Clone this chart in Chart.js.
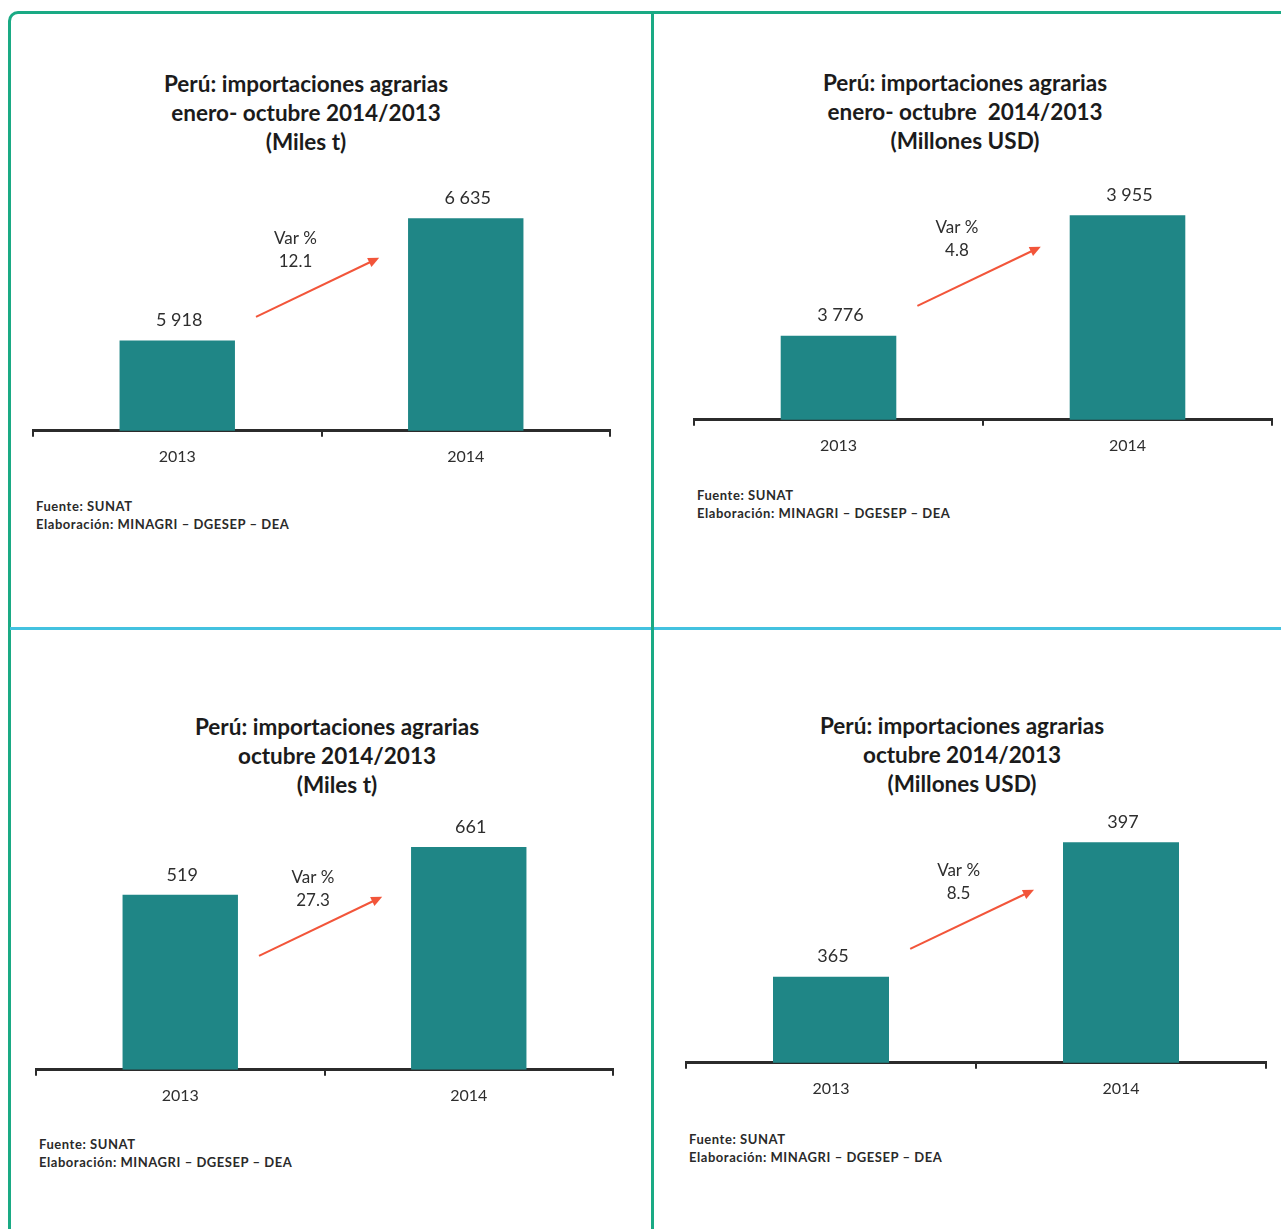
<!DOCTYPE html>
<html>
<head>
<meta charset="utf-8">
<script src="https://cdn.jsdelivr.net/npm/chart.js@4.4.1/dist/chart.umd.min.js"></script>
<style>
  body { margin: 0; background: #fff; font-family: 'Lato', 'Open Sans', sans-serif; }
  #page { position: relative; width: 1281px; height: 1229px; overflow: hidden; background: #fff; }
  .frame { position: absolute; left: 8px; top: 11px; width: 1300px; height: 1260px;
           border-top: 3px solid #1aaa84; border-left: 3px solid #1aaa84; border-top-left-radius: 10px; }
  .vline { position: absolute; left: 651px; top: 11px; width: 3px; height: 1240px; background: #1aaa84; z-index: 2; }
  .hline { position: absolute; left: 10px; top: 627px; width: 1300px; height: 3px; background: #43c2e0; z-index: 1; }
  .title { position: absolute; width: 460px; text-align: center; font-weight: bold; font-size: 22.5px;
           line-height: 29px; color: #1b1b1b; white-space: pre; }
  .note { position: absolute; font-weight: bold; font-size: 13px; letter-spacing: 0.55px; line-height: 18px;
          color: #2a2a2a; white-space: pre; }
  canvas { position: absolute; }
</style>
</head>
<body>
<div id="page">
  <div class="frame"></div>
  <div class="hline"></div>
  <div class="vline"></div>
</div>
<script>
// categories and values
const categories = ['2013', '2014'];
const tonsJanOct = [5918, 6635];   // Miles t, enero-octubre
const usdJanOct = [3776, 3955];    // Millones USD, enero-octubre
const tonsOct = [519, 661];        // Miles t, octubre
const usdOct = [365, 397];         // Millones USD, octubre
const varPct = ['12.1', '4.8', '27.3', '8.5'];

// value axis range of each chart (the bars do not start at zero)
const yMin = [5389, 3651, 0, 344.5];
const yMax = [6876, 4028, 753, 404.9];

const titles = [
    ['Perú: importaciones agrarias', 'enero- octubre 2014/2013', '(Miles t)'],
    ['Perú: importaciones agrarias', 'enero- octubre  2014/2013', '(Millones USD)'],
    ['Perú: importaciones agrarias', 'octubre 2014/2013', '(Miles t)'],
    ['Perú: importaciones agrarias', 'octubre 2014/2013', '(Millones USD)']
];
const noteLines = ['Fuente: SUNAT', 'Elaboración: MINAGRI – DGESEP – DEA'];

const seriesList = [tonsJanOct, usdJanOct, tonsOct, usdOct];

// where each panel sits on the page
const panels = [
    { axisY: 430, left: 33, right: 610, titleX: 306, titleY: 83, noteX: 36, noteY: 506, varX: 0.41 },
    { axisY: 419, left: 694, right: 1272, titleX: 965, titleY: 82, noteX: 697, noteY: 495, varX: 0.41 },
    { axisY: 1069, left: 36, right: 613, titleX: 337, titleY: 726, noteX: 39, noteY: 1144, varX: 0.46 },
    { axisY: 1062, left: 686, right: 1266, titleX: 962, titleY: 725, noteX: 689, noteY: 1139, varX: 0.44 }
];

const barColor = '#1f8686';
const arrowColor = '#f2553a';
const textColor = '#2e2e2e';

function fmt(v) {
    return String(v).replace(/\B(?=(\d{3})+(?!\d))/g, ' ');
}

// value labels, "Var %" note and red arrow
const annotate = {
    id: 'annotate',
    afterDatasetsDraw(chart, args, opts) {
        const ctx = chart.ctx;
        const meta = chart.getDatasetMeta(0);
        const data = chart.data.datasets[0].data;
        const x = chart.scales.x;
        const bottom = chart.chartArea.bottom;
        ctx.save();
        ctx.fillStyle = textColor;
        ctx.textAlign = 'center';
        ctx.textBaseline = 'middle';
        ctx.font = '18px Lato, sans-serif';
        meta.data.forEach((bar, i) => {
            ctx.fillText(fmt(data[i]), bar.x + 2, bar.y - 20);
        });

        ctx.font = '17px Lato, sans-serif';
        const vx = x.getPixelForValue(opts.varX);
        ctx.fillText('Var %', vx, bottom - 192);
        ctx.fillText(opts.pct, vx, bottom - 169);

        // arrow
        const x0 = x.getPixelForValue(0.273), y0 = bottom - 114;
        const x1 = x.getPixelForValue(0.70), y1 = bottom - 173;
        const ang = Math.atan2(y1 - y0, x1 - x0);
        ctx.strokeStyle = arrowColor;
        ctx.fillStyle = arrowColor;
        ctx.lineWidth = 2;
        ctx.beginPath();
        ctx.moveTo(x0, y0);
        ctx.lineTo(x1 - 8 * Math.cos(ang), y1 - 8 * Math.sin(ang));
        ctx.stroke();
        ctx.beginPath();
        ctx.moveTo(x1, y1);
        ctx.lineTo(x1 - 11 * Math.cos(ang) + 5 * Math.sin(ang), y1 - 11 * Math.sin(ang) - 5 * Math.cos(ang));
        ctx.lineTo(x1 - 11 * Math.cos(ang) - 5 * Math.sin(ang), y1 - 11 * Math.sin(ang) + 5 * Math.cos(ang));
        ctx.closePath();
        ctx.fill();
        ctx.restore();
    }
};

const page = document.getElementById('page');

panels.forEach((p, i) => {
    const title = document.createElement('div');
    title.className = 'title';
    title.textContent = titles[i].join('\n');
    title.style.left = (p.titleX - 230) + 'px';
    title.style.top = (p.titleY - 14.5) + 'px';
    page.appendChild(title);

    const note = document.createElement('div');
    note.className = 'note';
    note.textContent = noteLines.join('\n');
    note.style.left = p.noteX + 'px';
    note.style.top = (p.noteY - 9) + 'px';
    page.appendChild(note);

    const canvas = document.createElement('canvas');
    const pad = 4;
    canvas.width = p.right - p.left + 2 * pad;
    canvas.height = 309;
    canvas.style.left = (p.left - pad) + 'px';
    canvas.style.top = (p.axisY - 263) + 'px';
    page.appendChild(canvas);

    new Chart(canvas.getContext('2d'), {
        type: 'bar',
        data: {
            labels: categories,
            datasets: [{
                data: seriesList[i],
                backgroundColor: barColor,
                borderWidth: 0,
                categoryPercentage: 0.4,
                barPercentage: 1
            }]
        },
        options: {
            responsive: false,
            animation: false,
            devicePixelRatio: 1,
            layout: { padding: { top: 10, left: pad, right: pad, bottom: 0 } },
            plugins: {
                legend: { display: false },
                tooltip: { enabled: false },
                annotate: { varX: p.varX, pct: varPct[i] }
            },
            scales: {
                x: {
                    grid: { display: true, drawOnChartArea: false, drawTicks: true, tickLength: 6,
                            color: '#2b2b2b', lineWidth: 2, offset: true },
                    border: { display: true, color: '#2b2b2b', width: 3 },
                    ticks: { color: textColor, font: { family: 'Lato', size: 16 }, padding: 10 }
                },
                y: { display: false, min: yMin[i], max: yMax[i] }
            }
        },
        plugins: [annotate]
    });
});
</script>
</body>
</html>
